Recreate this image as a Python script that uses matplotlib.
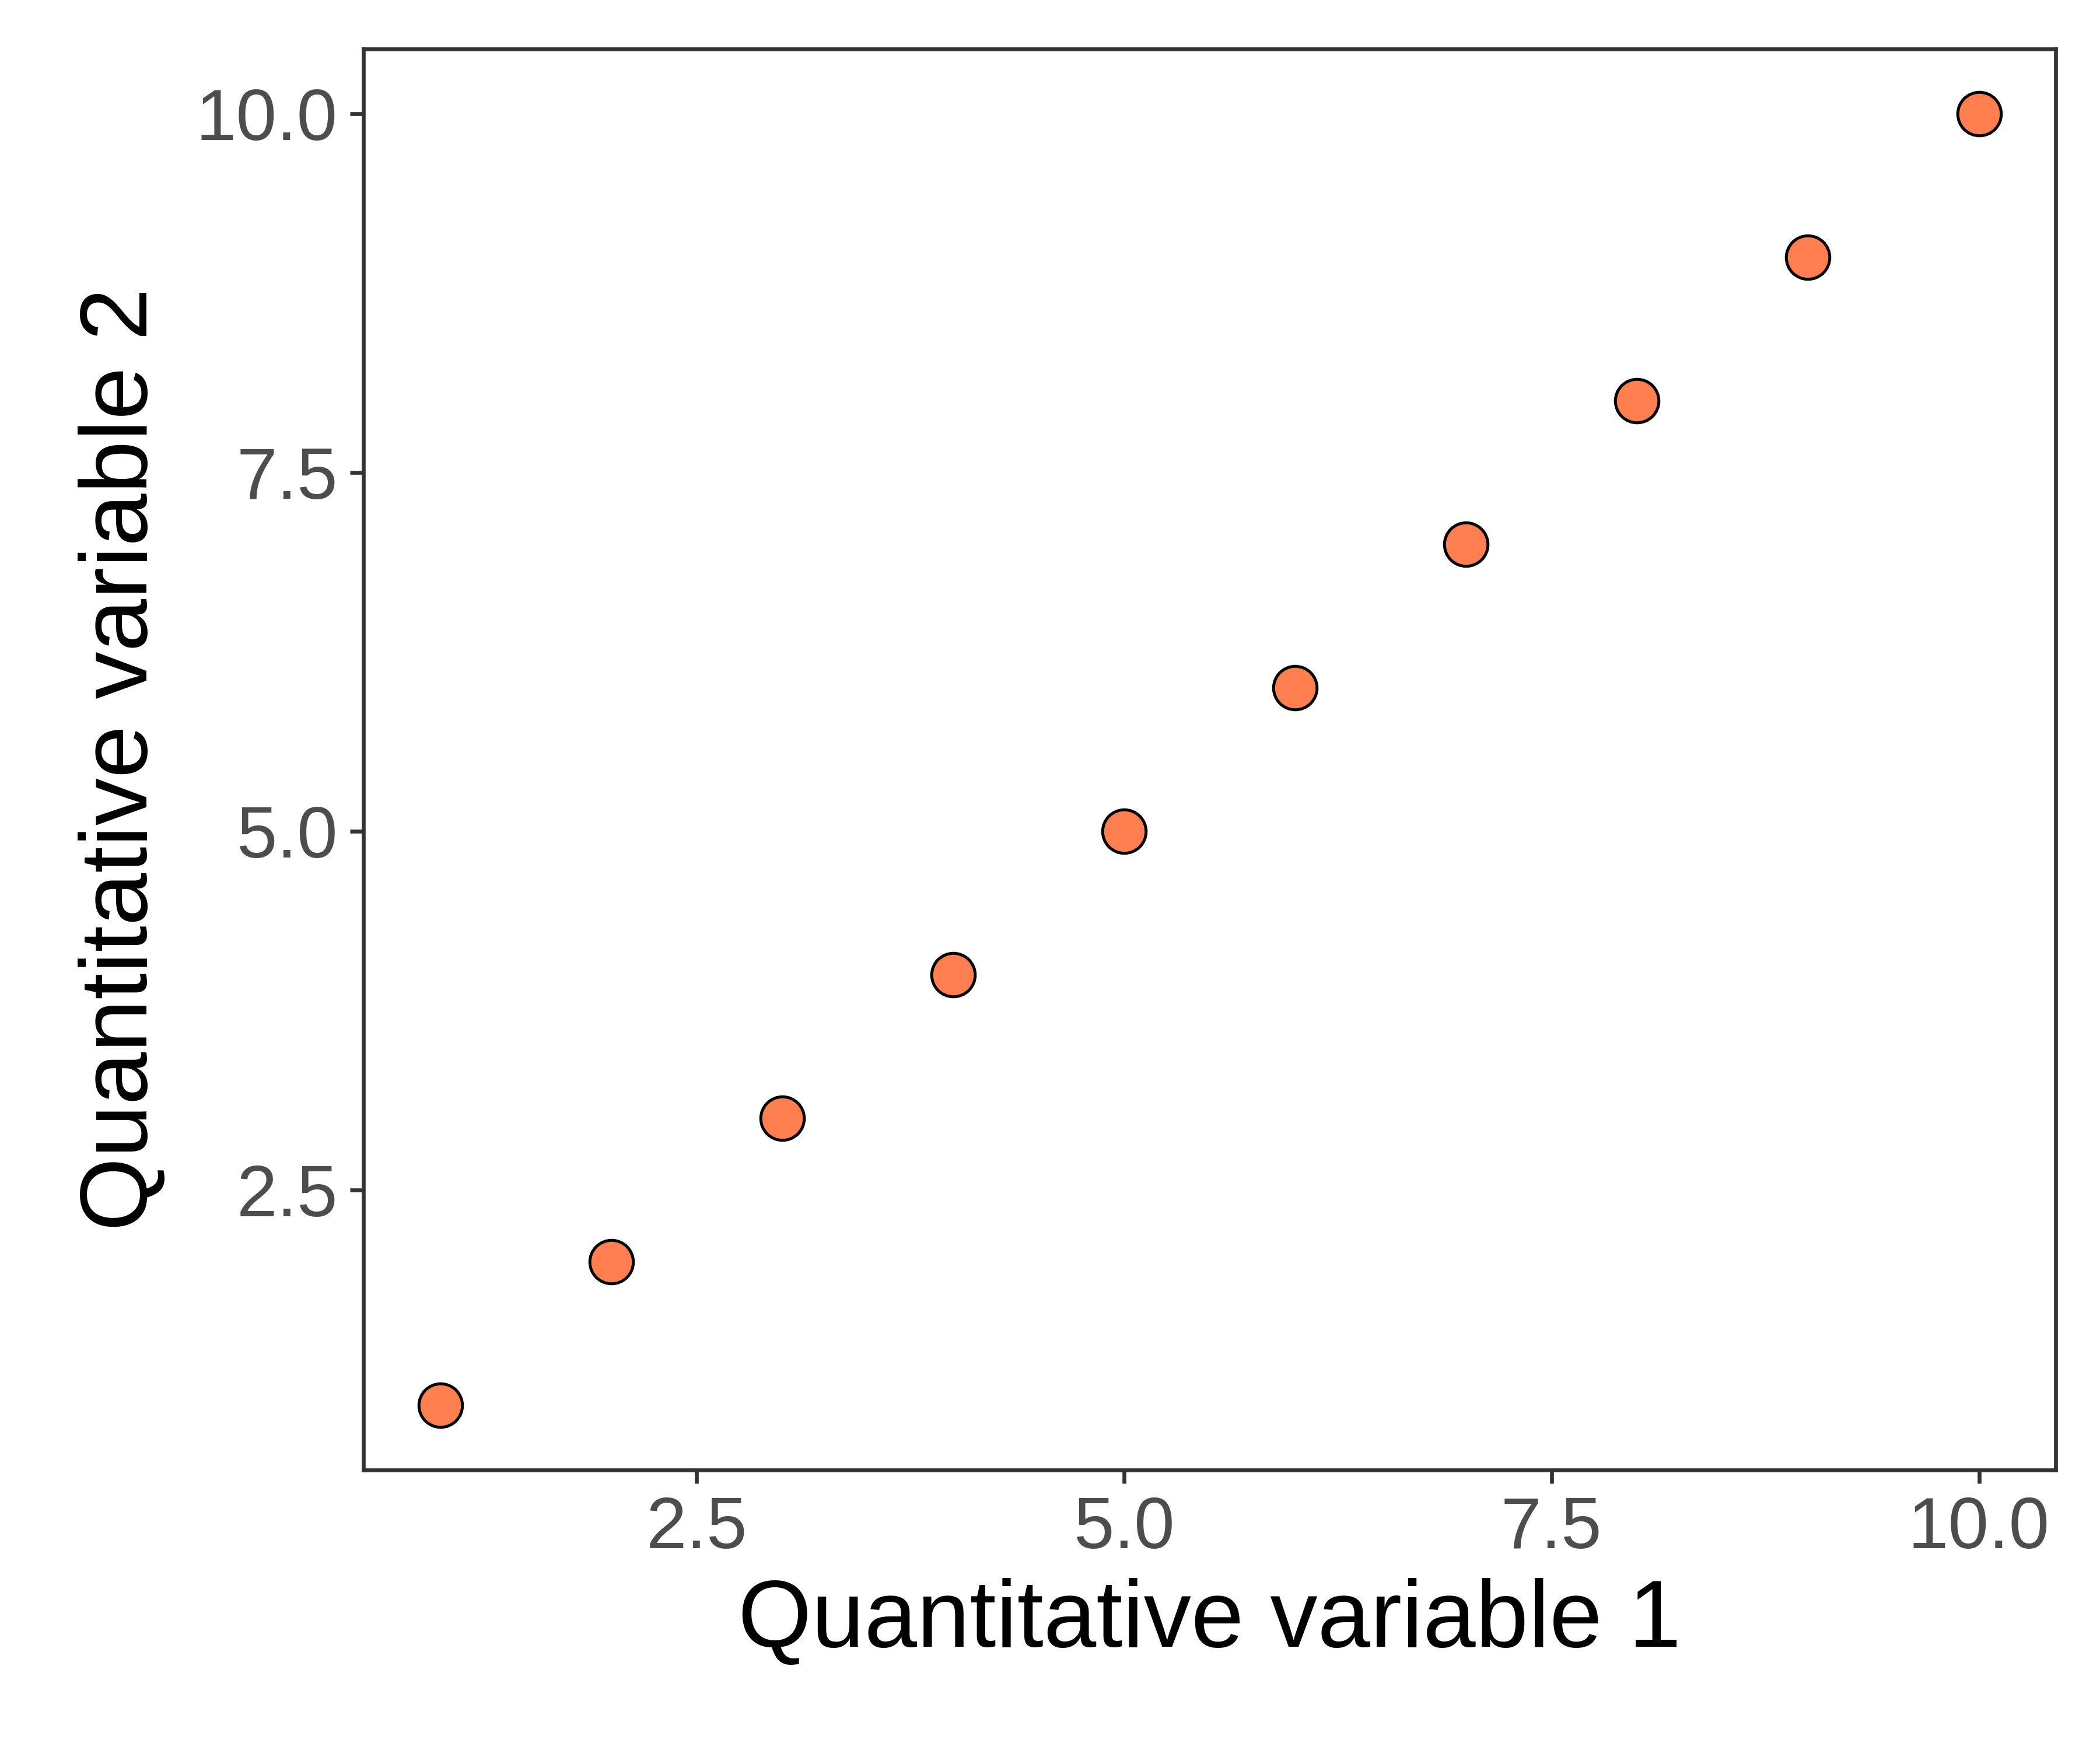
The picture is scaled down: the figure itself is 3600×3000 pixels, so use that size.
import matplotlib
matplotlib.use("Agg")
import matplotlib.pyplot as plt

plt.rcParams['font.family'] = ['Liberation Sans', 'DejaVu Sans']

x_vals = [1, 2, 3, 4, 5, 6, 7, 8, 9, 10]
y_vals = [1, 2, 3, 4, 5, 6, 7, 8, 9, 10]
ticks = [2.5, 5.0, 7.5, 10.0]

fig = plt.figure(figsize=(12, 10), dpi=300)
ax = fig.add_axes([0.173, 0.16, 0.806, 0.812])

ax.scatter(x_vals, y_vals, s=320, facecolor="#FF7F50", edgecolor="black", linewidth=1.2, zorder=3)

ax.set_xlim(0.55, 10.45)
ax.set_ylim(0.55, 10.45)
ax.set_xticks(ticks)
ax.set_yticks(ticks)
ax.set_xticklabels([f"{t:.1f}" for t in ticks])
ax.set_yticklabels([f"{t:.1f}" for t in ticks])

for s in ax.spines.values():
    s.set_color("#333333")
    s.set_linewidth(1.6)
ax.tick_params(colors="#333333", width=1.6, length=5.5, pad=5, labelsize=30, labelcolor="#4d4d4d")

ax.set_xlabel("Quantitative variable 1", fontsize=39, labelpad=6)
ax.set_ylabel("Quantitative variable 2", fontsize=39, labelpad=12)

fig.savefig("out.png", dpi=300)
